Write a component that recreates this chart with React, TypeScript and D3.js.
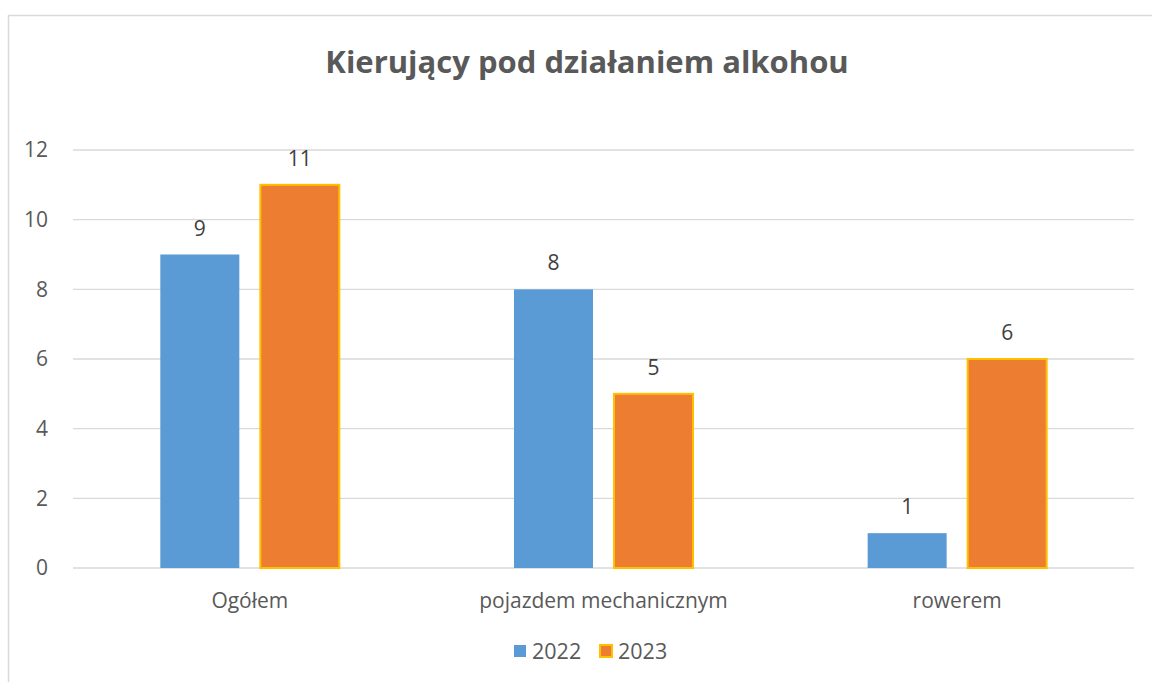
import React from "react";
import * as d3 from "d3";

const categories = ["Ogółem", "pojazdem mechanicznym", "rowerem"];
const seriesNames = ["2022", "2023"];
const values2022 = [9, 8, 1];
const values2023 = [11, 5, 6];
const yTicks = [0, 2, 4, 6, 8, 10, 12];

const colors = ["#5B9BD5", "#ED7D31"];
const strokes = ["none", "#FFC000"];
const font = "'Open Sans', sans-serif";

const App = () => {
  const width = 1152;
  const height = 682;
  const left = 73;
  const right = 1134;
  const top = 150;
  const bottom = 568;

  const x = d3.scaleBand().domain(categories).range([left, right]).paddingInner(0).paddingOuter(0);
  const xs = d3
    .scaleBand()
    .domain(seriesNames)
    .range([0, x.bandwidth()])
    .paddingInner(0.21)
    .paddingOuter(0.873);
  const y = d3.scaleLinear().domain([0, 12]).range([bottom, top]);

  const series = [values2022, values2023];

  return (
    <svg
      width={width}
      height={height}
      style={{ position: "absolute", left: 0, top: 0, background: "#fff" }}
      fontFamily={font}
    >
      <rect x={8.5} y={15.5} width={1200} height={700} fill="#fff" stroke="#d9d9d9" strokeWidth={1.5} />
      <text x={587} y={73} textAnchor="middle" fontSize={31} fontWeight="bold" fill="#595959">
        Kierujący pod działaniem alkohou
      </text>

      {yTicks.map((t) => (
        <g key={t}>
          <line x1={left} x2={right} y1={y(t)} y2={y(t)} stroke="#d9d9d9" strokeWidth={1.3} />
          <text x={48} y={y(t)} dy="0.35em" textAnchor="end" fontSize={21} fill="#595959">
            {t}
          </text>
        </g>
      ))}

      {categories.map((c, i) => (
        <g key={c}>
          {series.map((vals, s) => {
            const bx = (x(c) as number) + (xs(seriesNames[s]) as number);
            const bw = xs.bandwidth();
            return (
              <g key={s}>
                <rect
                  x={bx}
                  y={y(vals[i])}
                  width={bw}
                  height={bottom - y(vals[i])}
                  fill={colors[s]}
                  stroke={strokes[s]}
                  strokeWidth={2}
                />
                <text x={bx + bw / 2} y={y(vals[i]) - 19} textAnchor="middle" fontSize={21} fill="#404040">
                  {vals[i]}
                </text>
              </g>
            );
          })}
          <text
            x={(x(c) as number) + x.bandwidth() / 2}
            y={608}
            textAnchor="middle"
            fontSize={21}
            fill="#595959"
          >
            {c}
          </text>
        </g>
      ))}

      {seriesNames.map((n, s) => {
        const lx = s === 0 ? 514 : 600;
        return (
          <g key={n}>
            <rect x={lx} y={645} width={12} height={12} fill={colors[s]} stroke={strokes[s]} strokeWidth={2} />
            <text x={lx + 18} y={651} dy="0.35em" fontSize={21.5} fill="#595959">
              {n}
            </text>
          </g>
        );
      })}
    </svg>
  );
};

export default App;
